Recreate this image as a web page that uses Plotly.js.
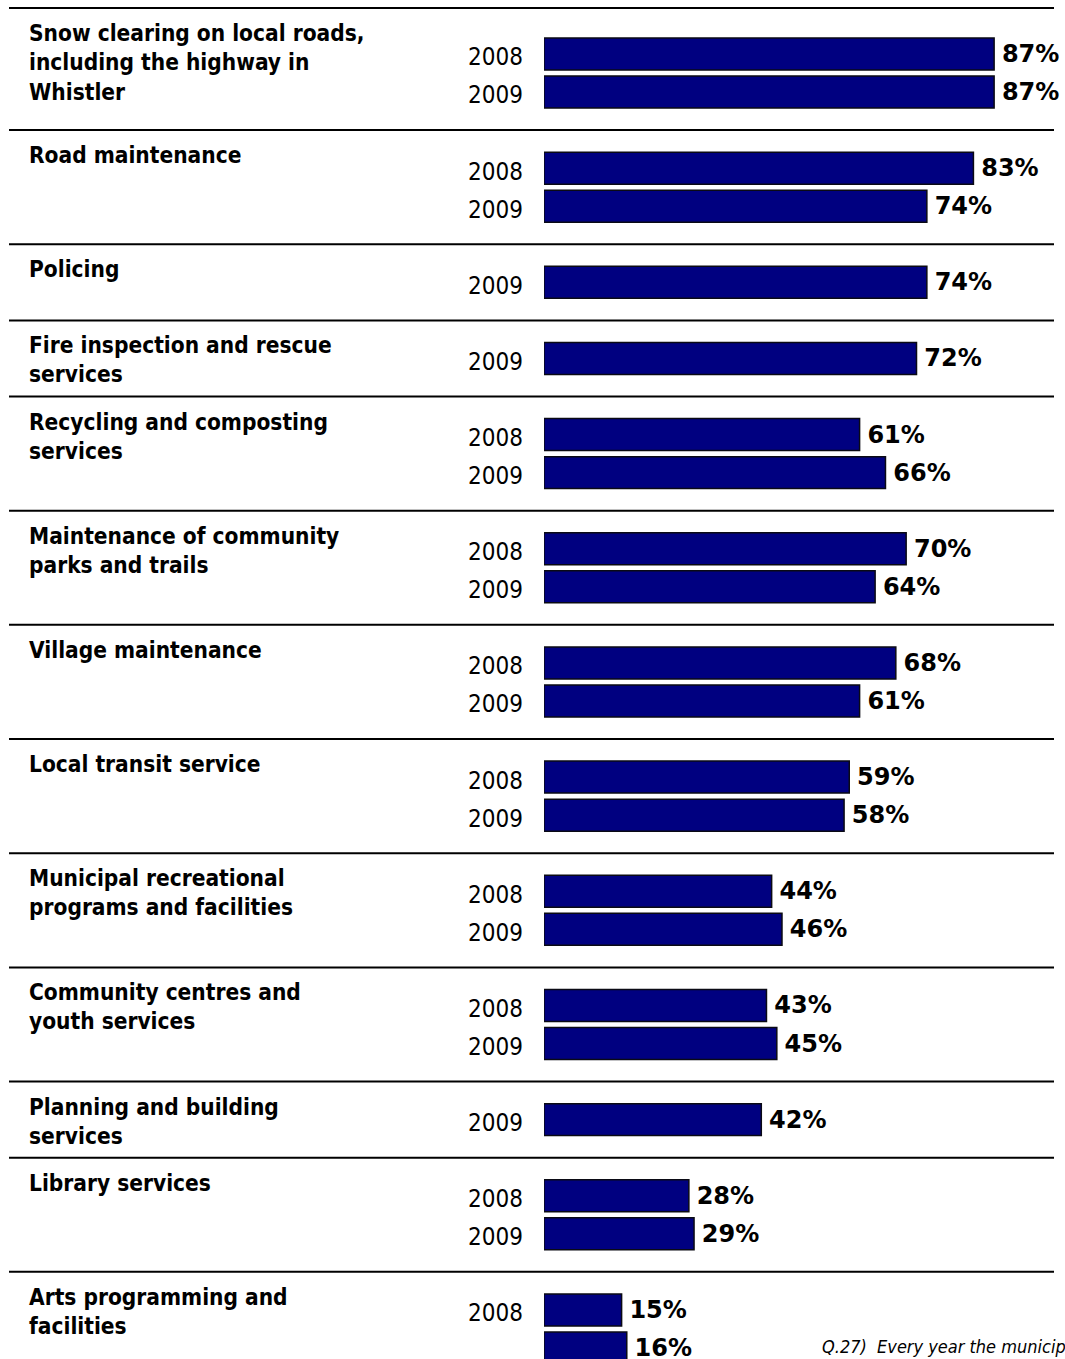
<!DOCTYPE html>
<html>
<head>
<meta charset="utf-8">
<script src="https://cdn.plot.ly/plotly-3.0.1.min.js"></script>
<style>
  html, body { margin: 0; padding: 0; background: #ffffff; overflow: hidden; }
  #chart { width: 1065px; height: 1359px; }
</style>
</head>
<body>
<div id="chart"></div>
<script>
// ---- data ----
const categories = [
  "Snow clearing on local roads,<br>including the highway in<br>Whistler",
  "Road maintenance",
  "Policing",
  "Fire inspection and rescue<br>services",
  "Recycling and composting<br>services",
  "Maintenance of community<br>parks and trails",
  "Village maintenance",
  "Local transit service",
  "Municipal recreational<br>programs and facilities",
  "Community centres and<br>youth services",
  "Planning and building<br>services",
  "Library services",
  "Arts programming and<br>facilities"
];
const years = ["2008", "2009"];
const values2008 = [87, 83, null, null, 61, 70, 68, 59, 44, 43, null, 28, 15];
const values2009 = [87, 74, 74, 72, 66, 64, 61, 58, 46, 45, 42, 29, 16];
const footnote = "Q.27)  Every year the municip";

// ---- slot layout (each bar occupies one slot; a separator occupies one slot) ----
const y2008 = [], x2008 = [], y2009 = [], x2009 = [];
const tickvals = [], ticktext = [];
const sepSlots = [-1.21];
const labelSlots = [];
let k = 0;
categories.forEach((c, i) => {
  labelSlots.push(sepSlots[sepSlots.length - 1]);
  if (values2008[i] !== null) {
    y2008.push(k); x2008.push(values2008[i]);
    tickvals.push(k); ticktext.push(years[0]);
    k += 1;
  }
  y2009.push(k); x2009.push(values2009[i]);
  tickvals.push(k); ticktext.push(years[1]);
  k += 1;
  sepSlots.push(k);
  k += 1;
});

const barColor = "#000080";
const valueFont = { family: "DejaVu Sans, Verdana, sans-serif", size: 24, color: "#000000", weight: "bold" };

function barTrace(xs, ys, name) {
  return {
    type: "bar", orientation: "h", name: name,
    x: xs, y: ys, width: 0.84,
    marker: { color: barColor, line: { color: "#0a0a14", width: 1.5 } },
    texttemplate: "\u2009%{x}%", textposition: "outside",
    textfont: valueFont, cliponaxis: false, constraintext: "none",
    hoverinfo: "skip", showlegend: false
  };
}

const data = [barTrace(x2008, y2008, "2008"), barTrace(x2009, y2009, "2009")];

const plotLeft = 544, plotWidth = 1065 - 544;
const px2paper = px => (px - plotLeft) / plotWidth;

const shapes = sepSlots.slice(0, sepSlots.length - 1).map(s => ({
  type: "line", xref: "paper", yref: "y",
  x0: px2paper(9), x1: px2paper(1054), y0: s, y1: s,
  line: { color: "#000000", width: 2 }
}));

const annotations = categories.map((c, i) => ({
  xref: "paper", yref: "y",
  x: px2paper(27), y: labelSlots[i], yshift: -10,
  xanchor: "left", yanchor: "top", align: "left",
  text: c, showarrow: false,
  font: { family: "DejaVu Sans Condensed, DejaVu Sans, sans-serif", size: 22.5, color: "#000000", weight: "bold" }
}));
annotations.push({
  xref: "paper", yref: "paper",
  x: px2paper(820), y: 0, yshift: 0,
  xanchor: "left", yanchor: "bottom", align: "left",
  text: footnote, showarrow: false,
  font: { family: "DejaVu Sans Condensed, DejaVu Sans, sans-serif", size: 18, color: "#000000", style: "italic" }
});

const layout = {
  width: 1065, height: 1359,
  margin: { l: plotLeft, r: 0, t: 0, b: 0, pad: 0 },
  paper_bgcolor: "#ffffff", plot_bgcolor: "#ffffff",
  barmode: "overlay",
  xaxis: { range: [0, 100.7], visible: false, fixedrange: true },
  yaxis: {
    range: [34.29, -1.419], autorange: false,
    tickvals: tickvals, ticktext: ticktext,
    ticks: "", showgrid: false, zeroline: false, showline: false,
    ticklabelstandoff: 20, ticklabelshift: -3,
    tickfont: { family: "DejaVu Sans Condensed, DejaVu Sans, sans-serif", size: 24, color: "#000000" }
  },
  shapes: shapes,
  annotations: annotations
};

Plotly.newPlot("chart", data, layout, { displayModeBar: false, staticPlot: true });
</script>
</body>
</html>
